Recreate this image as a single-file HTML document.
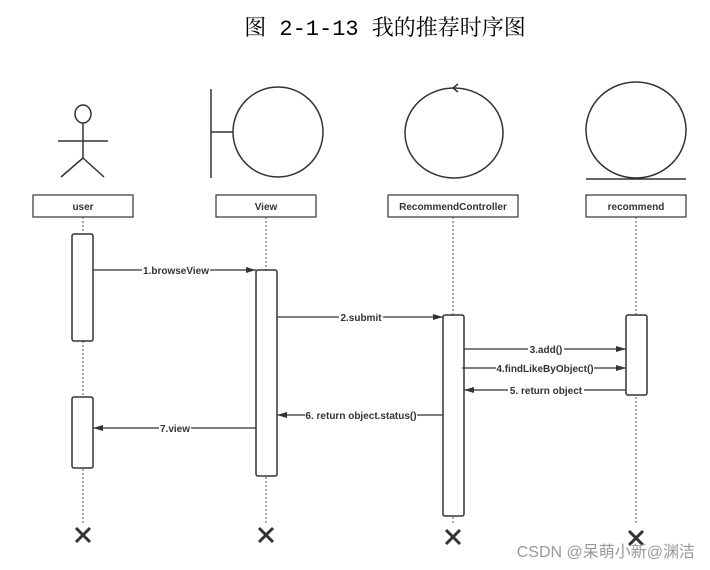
<!DOCTYPE html>
<html><head><meta charset="utf-8"><style>
body{margin:0;background:#fff;}
svg{display:block;}
.t{font-family:"Liberation Sans",sans-serif;font-size:10px;font-weight:bold;fill:#333;}
</style></head><body>
<svg width="710" height="570" viewBox="0 0 710 570" xmlns="http://www.w3.org/2000/svg">
<text x="385" y="35" text-anchor="middle" font-family="'Liberation Mono','Noto Serif CJK SC',serif" font-size="22" fill="#000">图 2-1-13 我的推荐时序图</text>
<g stroke="#333" stroke-width="1.5" fill="none">
<ellipse cx="83" cy="114" rx="8" ry="9"/>
<line x1="83" y1="123" x2="83" y2="158"/>
<line x1="58" y1="141" x2="108" y2="141"/>
<line x1="83" y1="158" x2="61" y2="177"/>
<line x1="83" y1="158" x2="104" y2="177"/>
<line x1="211" y1="89" x2="211" y2="178"/>
<line x1="211" y1="132" x2="233" y2="132"/>
<ellipse cx="278" cy="132" rx="45" ry="45"/>
<ellipse cx="454" cy="133" rx="49" ry="45"/>
<polyline points="458,84 453,88 458,92"/>
<ellipse cx="636" cy="130" rx="50" ry="48"/>
<line x1="586" y1="179" x2="686" y2="179"/>
</g>
<g stroke="#333" stroke-width="1.2" fill="#fff">
<rect x="33" y="195" width="100" height="22"/>
<rect x="216" y="195" width="100" height="22"/>
<rect x="388" y="195" width="130" height="22"/>
<rect x="586" y="195" width="100" height="22"/>
</g>
<text class="t" x="83" y="210" text-anchor="middle">user</text>
<text class="t" x="266" y="210" text-anchor="middle">View</text>
<text class="t" x="453" y="210" text-anchor="middle">RecommendController</text>
<text class="t" x="636" y="210" text-anchor="middle">recommend</text>
<g stroke="#555" stroke-width="1" stroke-dasharray="2,2">
<line x1="83" y1="217" x2="83" y2="525"/>
<line x1="266" y1="217" x2="266" y2="525"/>
<line x1="453" y1="217" x2="453" y2="525"/>
<line x1="636" y1="217" x2="636" y2="525"/>
</g>
<g stroke="#333" stroke-width="1.5" fill="#fff">
<rect x="72" y="234" width="21" height="107" rx="2"/>
<rect x="72" y="397" width="21" height="71" rx="2"/>
<rect x="256" y="270" width="21" height="206" rx="2"/>
<rect x="443" y="315" width="21" height="201" rx="2"/>
<rect x="626" y="315" width="21" height="80" rx="2"/>
</g>
<defs><marker id="a" markerWidth="10" markerHeight="8" refX="10" refY="4" orient="auto" markerUnits="userSpaceOnUse"><path d="M0,1 L10,4 L0,7z" fill="#333"/></marker></defs>
<g stroke="#333" stroke-width="1.3" marker-end="url(#a)">
<line x1="93" y1="270" x2="256" y2="270"/>
<line x1="277" y1="317" x2="443" y2="317"/>
<line x1="464" y1="349" x2="626" y2="349"/>
<line x1="462" y1="368" x2="626" y2="368"/>
<line x1="626" y1="390" x2="464" y2="390"/>
<line x1="443" y1="415" x2="277" y2="415"/>
<line x1="256" y1="428" x2="93" y2="428"/>
</g>
<g>
<rect x="142" y="263" width="68" height="13" fill="#fff"/><text class="t" x="176" y="274" text-anchor="middle">1.browseView</text>
<rect x="339" y="310" width="44" height="13" fill="#fff"/><text class="t" x="361" y="321" text-anchor="middle">2.submit</text>
<rect x="528" y="342" width="36" height="13" fill="#fff"/><text class="t" x="546" y="353" text-anchor="middle">3.add()</text>
<rect x="496" y="361" width="98" height="13" fill="#fff"/><text class="t" x="545" y="372" text-anchor="middle">4.findLikeByObject()</text>
<rect x="508" y="383" width="76" height="13" fill="#fff"/><text class="t" x="546" y="394" text-anchor="middle">5. return object</text>
<rect x="305" y="408" width="112" height="13" fill="#fff"/><text class="t" x="361" y="419" text-anchor="middle">6. return object.status()</text>
<rect x="159" y="421" width="32" height="13" fill="#fff"/><text class="t" x="175" y="432" text-anchor="middle">7.view</text>
</g>
<g stroke="#333" stroke-width="3">
<path d="M76,528 L90,542 M90,528 L76,542"/>
<path d="M259,528 L273,542 M273,528 L259,542"/>
<path d="M446,530 L460,544 M460,530 L446,544"/>
<path d="M629,531 L643,545 M643,531 L629,545"/>
</g>
<text x="695" y="557" text-anchor="end" font-family="'Liberation Sans','Noto Sans CJK SC',sans-serif" font-size="16" fill="#999">CSDN @呆萌小新@渊洁</text>
</svg>
</body></html>
